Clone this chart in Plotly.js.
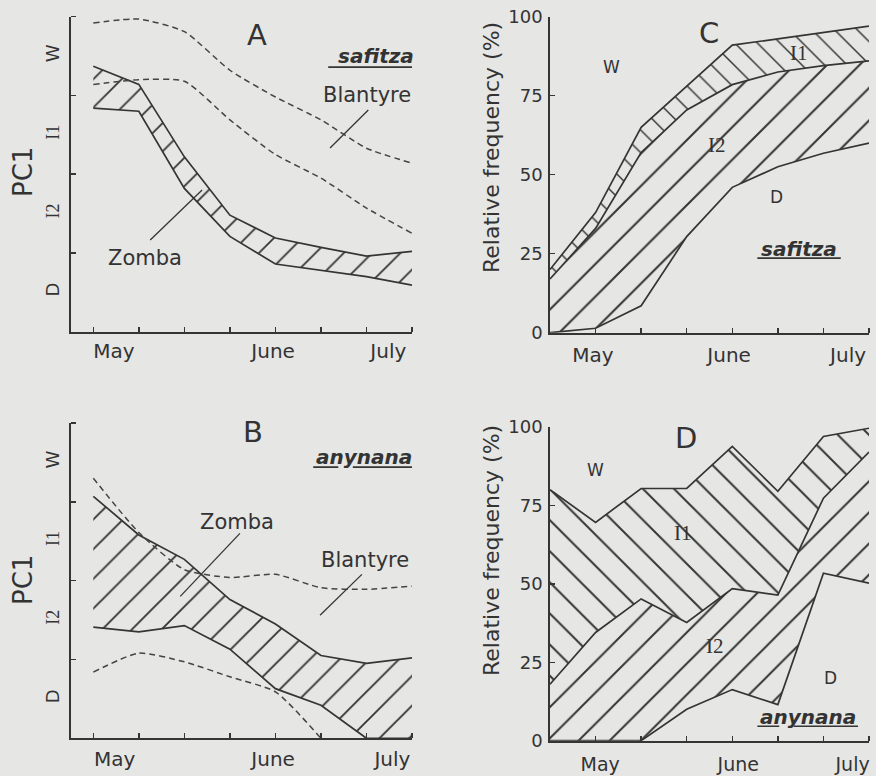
<!DOCTYPE html>
<html>
<head>
<meta charset="utf-8">
<script src="https://cdn.plot.ly/plotly-3.0.1.min.js"></script>
<style>
  html, body { margin: 0; padding: 0; background: #e6e6e4; }
  #chart { width: 876px; height: 776px; }
</style>
</head>
<body>
<div id="chart"></div>
<script>
// ---------- data ----------
// sampling occasions (ticks on the time axis), May -> July
const samples = [0, 1, 2, 3, 4, 5, 6, 7];
const months = ['May', 'June', 'July'];
const pcZones = ['D', 'I2', 'I1', 'W'];   // bottom to top
const freqTicks = [0, 25, 50, 75, 100];

// Panel A: safitza, PC1 (0 = bottom of D zone, 4 = top of W zone)
const zombaUpperA    = [3.37, 3.14, 2.22, 1.48, 1.19, 1.07, 0.96, 1.02];
const zombaLowerA    = [2.84, 2.80, 1.82, 1.21, 0.86, 0.78, 0.70, 0.59];
const blantyreUpperA = [3.92, 3.97, 3.81, 3.32, 2.98, 2.69, 2.33, 2.14];
const blantyreLowerA = [3.14, 3.20, 3.18, 2.69, 2.25, 1.95, 1.57, 1.25];

// Panel B: anynana, PC1
const zombaUpperB    = [3.07, 2.58, 2.27, 1.76, 1.45, 1.05, 0.95, 1.02];
const zombaLowerB    = [1.41, 1.35, 1.43, 1.13, 0.63, 0.42, 0.00, 0.00];
const blantyreUpperB = [3.30, 2.61, 2.14, 2.04, 2.08, 1.91, 1.89, 1.93];
const blantyreLowerB = [0.84, 1.08, 0.97, 0.78, 0.59, 0.00, null, null];

// Panel C: safitza, cumulative relative frequency (%)
const cWI1  = [20, 38, 65, 78, 91, 93, 95, 97];          // W / I1 boundary
const cI1I2 = [17, 33, 57, 70.5, 78.5, 82.5, 84.5, 86];  // I1 / I2 boundary
const cI2D  = [0, 1.4, 8.5, 30.4, 46, 52.5, 56.8, 60];   // I2 / D boundary

// Panel D: anynana, cumulative relative frequency (%)
const dWI1  = [80, 69.6, 80.4, 80.4, 93.8, 79.5, 97, 99.6];
const dI1I2 = [18, 34.5, 45.2, 37.7, 48.5, 46.4, 77.3, 92];
const dI2D  = [0, 0, 0, 10, 16.3, 11.5, 53.4, 50.2];

// month label positions on each time axis (in sample units)
const monthPosA = [0.45, 3.95, 6.48];
const monthPosB = [0.47, 3.95, 6.57];
const monthPosC = [0.94, 3.93, 6.54];
const monthPosD = [1.10, 4.13, 6.64];

// ---------- styling ----------
const ink = '#353535';
const txt = '#333333';
const bg = '#e6e6e4';
const sans = 'DejaVu Sans, Verdana, sans-serif';
const serif = 'Liberation Serif, Times New Roman, serif';

function solid(x, y, xa, ya) {
  return {x, y, xaxis: xa, yaxis: ya, type: 'scatter', mode: 'lines',
          line: {color: ink, width: 1.7}, hoverinfo: 'skip'};
}
function band(x, y, xa, ya, shape, size) {
  return {x, y, xaxis: xa, yaxis: ya, type: 'scatter', mode: 'lines',
          line: {color: ink, width: 1.7}, fill: 'tonexty',
          fillcolor: 'rgba(0,0,0,0)',
          fillpattern: {shape, size, solidity: 0.09, fgcolor: ink,
                        bgcolor: 'rgba(0,0,0,0)'},
          hoverinfo: 'skip'};
}
function dashed(x, y, xa, ya) {
  return {x, y, xaxis: xa, yaxis: ya, type: 'scatter', mode: 'lines',
          line: {color: '#444444', width: 1.5, dash: '6px,4px', shape: 'spline', smoothing: 0.6},
          connectgaps: false, hoverinfo: 'skip'};
}

const data = [
  // A
  solid(samples, zombaLowerA, 'x', 'y'),
  band(samples, zombaUpperA, 'x', 'y', '/', 20),
  dashed(samples, blantyreUpperA, 'x', 'y'),
  dashed(samples, blantyreLowerA, 'x', 'y'),
  // B
  solid(samples, zombaLowerB, 'x2', 'y2'),
  band(samples, zombaUpperB, 'x2', 'y2', '/', 21),
  dashed(samples, blantyreUpperB, 'x2', 'y2'),
  dashed(samples, blantyreLowerB, 'x2', 'y2'),
  // C
  solid(samples, cI2D, 'x3', 'y3'),
  band(samples, cI1I2, 'x3', 'y3', '/', 23),
  band(samples, cWI1, 'x3', 'y3', '\\', 16),
  // D
  solid(samples, dI2D, 'x4', 'y4'),
  band(samples, dI1I2, 'x4', 'y4', '/', 22),
  band(samples, dWI1, 'x4', 'y4', '\\', 22)
];

const zoneText = pcZones.map(z => z.startsWith('I')
  ? '<span style="font-family:Liberation Serif">' + z + '</span>' : z);

function timeAxis(domain, anchor, range, labelPos, minorVals, standoff, fsize) {
  return {domain, anchor, range, showline: true, linecolor: ink, linewidth: 1.8,
    zeroline: false, showgrid: false, tickmode: 'array', tickvals: labelPos,
    ticktext: months, ticks: '', ticklabelstandoff: standoff,
    tickfont: {family: sans, size: fsize || 20, color: txt},
    minor: {tickmode: 'array', tickvals: minorVals, ticks: 'inside', ticklen: 5,
            tickwidth: 1.5, tickcolor: ink, showgrid: false},
    fixedrange: true};
}
function pcAxis(domain, anchor) {
  return {domain, anchor, range: [0, 4], showline: true, linecolor: ink, linewidth: 1.8,
    zeroline: false, showgrid: false, tickmode: 'array',
    tickvals: [0.5, 1.5, 2.5, 3.5], ticktext: zoneText, ticks: '', tickangle: -90,
    ticklabelstandoff: 3,
    tickfont: {family: sans, size: 18, color: txt},
    minor: {tickmode: 'array', tickvals: [1, 2, 3, 4], ticks: 'inside', ticklen: 5,
            tickwidth: 1.5, tickcolor: ink, showgrid: false},
    fixedrange: true};
}
function freqAxis(domain, anchor) {
  return {domain, anchor, range: [0, 100], showline: true, linecolor: ink, linewidth: 1.8,
    zeroline: false, showgrid: false, tickmode: 'array', tickvals: freqTicks,
    ticktext: freqTicks.map(String), ticks: 'inside', ticklen: 5, tickwidth: 1.5,
    tickcolor: ink, ticklabelstandoff: 2,
    tickfont: {family: sans, size: 18, color: txt}, fixedrange: true};
}

const xDomAB = [71 / 876, 412 / 876];
const xDomCD = [550 / 876, 869 / 876];

function ann(text, x, y, xref, yref, size, extra) {
  return Object.assign({text, x, y, xref, yref, showarrow: false,
    xanchor: 'center', yanchor: 'middle',
    font: {family: sans, size, color: txt}}, extra || {});
}
const boldIt = t => '<b><i>' + t + '</i></b>';
const serifFont = {family: serif, size: 21, color: txt};

const annotations = [
  // Panel A
  ann('A', 3.6, 3.77, 'x', 'y', 29),
  ann(boldIt('safitza'), 6.2, 3.5, 'x', 'y', 20),
  ann('Blantyre', 6.02, 3.01, 'x', 'y', 21),
  ann('Zomba', 1.14, 0.93, 'x', 'y', 21),
  // Panel B
  ann('B', 3.51, 3.89, 'x2', 'y2', 29),
  ann(boldIt('anynana'), 5.95, 3.57, 'x2', 'y2', 20),
  ann('Zomba', 3.16, 2.74, 'x2', 'y2', 21),
  ann('Blantyre', 5.97, 2.26, 'x2', 'y2', 21),
  // Panel C
  ann('C', 3.49, 94.8, 'x3', 'y3', 29),
  ann('W', 1.36, 84.1, 'x3', 'y3', 17),
  ann('I1', 5.46, 88.5, 'x3', 'y3', 21, {font: serifFont}),
  ann('I2', 3.66, 59.4, 'x3', 'y3', 21, {font: serifFont}),
  ann('D', 4.98, 42.9, 'x3', 'y3', 17),
  ann(boldIt('safitza'), 5.46, 26.4, 'x3', 'y3', 20),
  // Panel D
  ann('D', 2.99, 96.5, 'x4', 'y4', 29),
  ann('W', 1.0, 86.3, 'x4', 'y4', 17),
  ann('I1', 2.92, 66.2, 'x4', 'y4', 21, {font: serifFont}),
  ann('I2', 3.63, 30.2, 'x4', 'y4', 21, {font: serifFont}),
  ann('D', 6.16, 20, 'x4', 'y4', 17),
  ann(boldIt('anynana'), 5.66, 7.4, 'x4', 'y4', 20),
  // axis titles
  ann('PC1', 23 / 876, 1 - 172 / 776, 'paper', 'paper', 26, {textangle: -90}),
  ann('PC1', 23 / 876, 1 - 580 / 776, 'paper', 'paper', 26, {textangle: -90}),
  ann('Relative frequency (%)', 491 / 876, 1 - 148 / 776, 'paper', 'paper', 22, {textangle: -90}),
  ann('Relative frequency (%)', 491 / 876, 1 - 551 / 776, 'paper', 'paper', 22, {textangle: -90})
];

function seg(x0, y0, x1, y1, xref, yref, w) {
  return {type: 'line', x0, y0, x1, y1, xref, yref,
          line: {color: ink, width: w || 1.3}};
}
const shapes = [
  // leader lines
  seg(6.04, 2.815, 5.20, 2.333, 'x', 'y'),
  seg(2.39, 1.80, 1.25, 1.165, 'x', 'y'),
  seg(5.90, 2.08, 4.98, 1.56, 'x2', 'y2'),
  seg(3.22, 2.60, 1.91, 1.80, 'x2', 'y2'),
  // underlines of species names
  seg(5.16, 3.36, 7.0, 3.36, 'x', 'y', 1.6),
  seg(4.83, 3.44, 5.38, 3.44, 'x2', 'y2', 1.6),
  seg(5.70, 3.44, 7.0, 3.44, 'x2', 'y2', 1.6),
  seg(4.55, 23.6, 6.38, 23.6, 'x3', 'y3', 1.6),
  seg(4.55, 4.6, 5.03, 4.6, 'x4', 'y4', 1.6),
  seg(5.35, 4.6, 6.76, 4.6, 'x4', 'y4', 1.6)
];

const layout = {
  width: 876, height: 776,
  margin: {l: 0, r: 0, t: 0, b: 0},
  paper_bgcolor: bg, plot_bgcolor: bg,
  showlegend: false,
  xaxis:  timeAxis(xDomAB, 'y',  [-0.49, 7], monthPosA, samples, 0),
  yaxis:  pcAxis([1 - 331.7 / 776, 1 - 16.7 / 776], 'x'),
  xaxis2: timeAxis(xDomAB, 'y2', [-0.49, 7], monthPosB, samples, 2),
  yaxis2: pcAxis([1 - 738.3 / 776, 1 - 423 / 776], 'x2'),
  xaxis3: timeAxis(xDomCD, 'y3', [0, 7], monthPosC, samples.slice(1), 3),
  yaxis3: freqAxis([1 - 332.7 / 776, 1 - 16.7 / 776], 'x3'),
  xaxis4: timeAxis(xDomCD, 'y4', [0, 7], monthPosD, samples.slice(1), 6, 19),
  yaxis4: freqAxis([1 - 740.7 / 776, 1 - 427 / 776], 'x4'),
  annotations, shapes
};

Plotly.newPlot('chart', data, layout, {staticPlot: true, displayModeBar: false});
</script>
</body>
</html>
